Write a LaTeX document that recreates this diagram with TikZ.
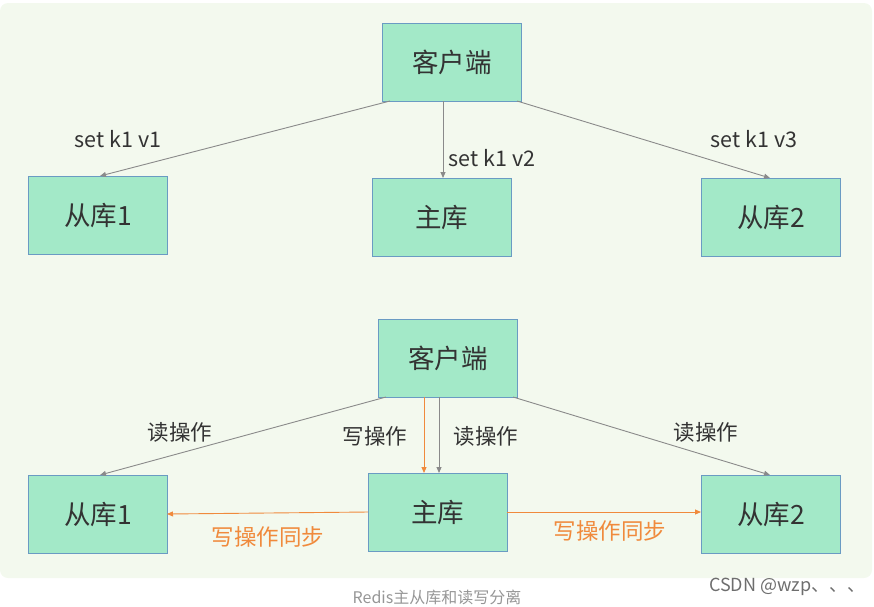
\documentclass[tikz,border=0pt]{standalone}
\usepackage{fontspec}
\setmainfont{Noto Sans CJK SC}
\usetikzlibrary{arrows.meta}
\definecolor{bgc}{HTML}{F3F9EE}
\definecolor{boxc}{HTML}{A3E9C8}
\definecolor{boxd}{HTML}{6A9BC3}
\definecolor{txtc}{HTML}{333333}
\definecolor{grayc}{HTML}{8A8A8A}
\definecolor{orc}{HTML}{F08A3C}
\tikzset{
  nbox/.style={draw=boxd, line width=0.9pt, fill=boxc, minimum width=139pt, minimum height=78pt, inner sep=0pt, text=txtc, font=\fontsize{26.5}{30}\selectfont, anchor=north west},
  garr/.style={draw=grayc, line width=0.9pt, -{Triangle[length=6pt,width=5pt]}},
  oarr/.style={draw=orc, line width=0.9pt, -{Triangle[length=6pt,width=5pt]}},
  lbl/.style={text=txtc, font=\fontsize{21.5}{24}\selectfont, inner sep=0pt},
  olbl/.style={text=orc, font=\fontsize{22.5}{25}\selectfont, inner sep=0pt},
}
\begin{document}
\begin{tikzpicture}[x=1pt,y=-1pt]
\useasboundingbox (0,0) rectangle (874,606);
\fill[bgc, rounded corners=8pt] (0,3) rectangle (872,578);
% top
\node[nbox] (c1) at (382,23) {客户端};
\node[nbox] (s1) at (28,176) {从库1};
\node[nbox] (m1) at (372,178) {主库};
\node[nbox] (s2) at (701,178) {从库2};
\coordinate (c1a) at (390,101);
\coordinate (c1b) at (443,101);
\coordinate (c1c) at (517,101);
\coordinate (s1t) at (100,176);
\coordinate (m1t) at (443,178);
\coordinate (s2t) at (770,178);
\draw[garr] (c1a) -- (s1t);
\draw[garr] (c1b) -- (m1t);
\draw[garr] (c1c) -- (s2t);
\node[lbl] (l1) at (118,139) {set k1 v1};
\node[lbl] (l2) at (492,158) {set k1 v2};
\node[lbl] (l3) at (754,139) {set k1 v3};
% bottom
\node[nbox] (c2) at (378,319) {客户端};
\node[nbox] (s3) at (28,475) {从库1};
\node[nbox] (m2) at (368,473) {主库};
\node[nbox] (s4) at (701,475) {从库2};
\coordinate (c2a) at (386,397);
\coordinate (c2o) at (424,397);
\coordinate (c2g) at (439,397);
\coordinate (c2c) at (513,397);
\coordinate (s3t) at (100,475);
\coordinate (m2o) at (424,473);
\coordinate (m2g) at (439,473);
\coordinate (s4t) at (770,475);
\draw[garr] (c2a) -- (s3t);
\draw[oarr] (c2o) -- (m2o);
\draw[garr] (c2g) -- (m2g);
\draw[garr] (c2c) -- (s4t);
\coordinate (m2l) at (368,512);
\coordinate (s3r) at (167,514);
\coordinate (m2r) at (507,512);
\coordinate (s4l) at (701,512);
\draw[oarr] (m2l) -- (s3r);
\draw[oarr] (m2r) -- (s4l);
\node[lbl] (r1) at (180,432) {读操作};
\node[lbl] (w1) at (375,436) {写操作};
\node[lbl] (r2) at (486,436) {读操作};
\node[lbl] (r3) at (706,432) {读操作};
\node[olbl] (ws1) at (268,537) {写操作同步};
\node[olbl] (ws2) at (610,531) {写操作同步};
% captions
\node[text=grayc!90, font=\fontsize{16}{18}\selectfont, inner sep=0pt] (cap) at (437,597) {Redis主从库和读写分离};
\node[text=grayc!80!black, font=\fontsize{18}{20}\selectfont, inner sep=0pt, anchor=west] (csdn) at (709,587) {CSDN @wzp、、、};
\end{tikzpicture}
\end{document}
